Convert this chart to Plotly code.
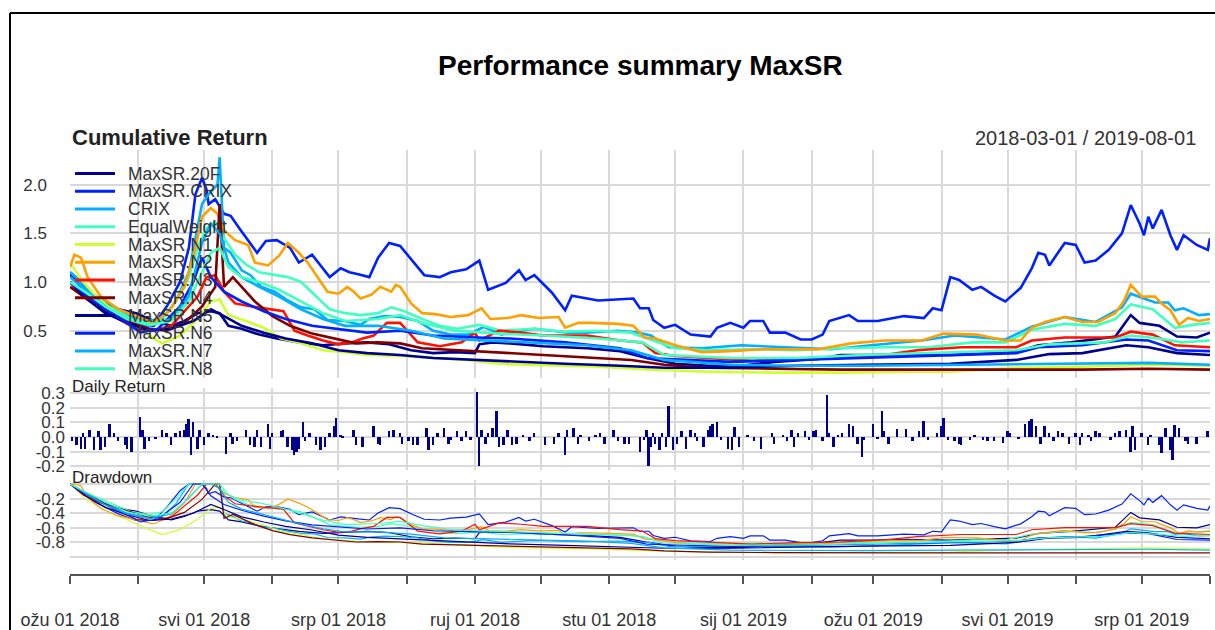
import datetime as dt
import plotly.graph_objects as go

# ---------------- data ----------------
START = "2018-03-01"
END = "2019-08-01"

series_names = ["MaxSR.20F", "MaxSR.CRIX", "CRIX", "EqualWeight", "MaxSR.N1", "MaxSR.N2",
                "MaxSR.N3", "MaxSR.N4", "MaxSR.N5", "MaxSR.N6", "MaxSR.N7", "MaxSR.N8"]
series_colors = ["#00008F", "#0020FF", "#00AFFF", "#40FFBF", "#CFFF30", "#FF9F00",
                 "#FF1000", "#800000", "#00008F", "#0020FF", "#00AFFF", "#40FFBF"]

# day offsets from 2018-03-01 and cumulative values for each series
d_20F = [0, 6, 14, 22, 30, 38, 46, 52, 58, 64, 68, 72, 78, 86, 94, 104, 115, 125, 135, 145,
         155, 165, 175, 184, 186, 192, 200, 215, 235, 250, 262, 275, 290, 305, 320, 340, 350, 365, 380, 400,
         430, 440, 455, 475, 482, 486, 495, 503, 512, 518]
v_20F = [1.08, 0.92, 0.80, 0.72, 0.68, 0.60, 0.55, 0.60, 0.68, 0.70, 0.68, 0.55, 0.52, 0.46, 0.42, 0.38, 0.35, 0.37, 0.38, 0.36,
         0.30, 0.27, 0.28, 0.27, 0.36, 0.38, 0.37, 0.34, 0.32, 0.29, 0.22, 0.16, 0.14, 0.14, 0.18, 0.21, 0.25, 0.25, 0.26, 0.25,
         0.28, 0.35, 0.38, 0.44, 0.66, 0.58, 0.55, 0.44, 0.43, 0.48]

d_MCRIX = [0, 5, 10, 16, 22, 30, 38, 44, 50, 54, 57, 60, 62, 63, 66, 70, 73, 77, 81, 85,
           89, 94, 100, 104, 110, 118, 123, 127, 131, 136, 140, 145, 150, 156, 161, 168, 173, 180, 186, 190,
           198, 204, 207, 211, 219, 225, 228, 235, 240, 256, 259, 263, 265, 270, 275, 282, 291, 294, 300, 306,
           309, 315, 318, 325, 332, 337, 342, 345, 354, 358, 367, 379, 388, 392, 396, 400, 404, 410, 414, 420,
           425, 428, 432, 437, 440, 443, 445, 448, 452, 457, 461, 466, 472, 478, 482, 486, 488, 490, 492, 496,
           500, 503, 506, 512, 517, 518]
v_MCRIX = [1.10, 1.00, 0.85, 0.75, 0.65, 0.55, 0.55, 0.75, 1.00, 1.35, 1.90, 2.07, 1.95, 1.80, 1.85, 1.70, 1.68, 1.55, 1.42, 1.30,
           1.42, 1.43, 1.35, 1.20, 1.28, 1.05, 1.14, 1.10, 1.08, 1.05, 1.25, 1.40, 1.37, 1.20, 1.07, 1.05, 1.10, 1.13, 1.22, 0.92,
           0.99, 1.12, 1.02, 1.07, 0.89, 0.71, 0.86, 0.83, 0.81, 0.83, 0.73, 0.73, 0.61, 0.53, 0.56, 0.46, 0.44, 0.53, 0.58, 0.53,
           0.60, 0.60, 0.48, 0.48, 0.41, 0.41, 0.46, 0.60, 0.66, 0.60, 0.60, 0.65, 0.63, 0.73, 0.71, 1.05, 1.02, 0.92, 0.95, 0.86,
           0.80, 0.86, 0.94, 1.14, 1.30, 1.28, 1.17, 1.27, 1.40, 1.38, 1.20, 1.22, 1.33, 1.50, 1.79, 1.60, 1.48, 1.67, 1.55, 1.74,
           1.48, 1.33, 1.48, 1.38, 1.33, 1.45]

d_CRIX = [0, 5, 10, 18, 26, 34, 42, 48, 54, 60, 63, 67, 68, 70, 73, 78, 82, 87, 93, 99,
          105, 111, 117, 125, 132, 136, 143, 150, 158, 165, 173, 181, 188, 196, 204, 211, 219, 226, 234, 249,
          258, 264, 272, 287, 305, 323, 346, 364, 387, 402, 425, 437, 452, 466, 478, 482, 493, 499, 502, 506,
          513, 518]
v_CRIX = [1.10, 1.00, 0.88, 0.78, 0.66, 0.60, 0.62, 0.80, 1.10, 1.80, 1.90, 2.00, 2.28, 1.35, 1.30, 1.12, 1.07, 0.95, 0.90, 0.81,
          0.74, 0.72, 0.61, 0.60, 0.56, 0.62, 0.65, 0.64, 0.60, 0.50, 0.46, 0.46, 0.54, 0.46, 0.50, 0.52, 0.50, 0.48, 0.48, 0.50,
          0.48, 0.45, 0.33, 0.32, 0.35, 0.33, 0.31, 0.35, 0.40, 0.45, 0.41, 0.54, 0.64, 0.59, 0.74, 0.88, 0.79, 0.79, 0.71, 0.73,
          0.66, 0.67]

d_EW = [0, 6, 12, 20, 28, 36, 42, 48, 54, 58, 62, 66, 70, 75, 80, 86, 92, 99, 105, 112,
        118, 125, 132, 140, 146, 152, 160, 168, 176, 186, 196, 210, 225, 240, 255, 265, 275, 290, 310, 330,
        350, 370, 390, 410, 425, 437, 452, 466, 475, 482, 492, 502, 510, 518]
v_EW = [1.00, 0.90, 0.82, 0.72, 0.62, 0.58, 0.62, 0.80, 1.05, 1.35, 1.55, 1.62, 1.45, 1.28, 1.18, 1.10, 1.08, 1.05, 1.00, 0.85,
        0.72, 0.68, 0.66, 0.68, 0.74, 0.70, 0.62, 0.55, 0.52, 0.56, 0.50, 0.52, 0.49, 0.50, 0.48, 0.40, 0.32, 0.30, 0.31, 0.30,
        0.32, 0.33, 0.33, 0.38, 0.38, 0.51, 0.57, 0.55, 0.62, 0.77, 0.72, 0.53, 0.56, 0.58]

d_N1 = [0, 6, 12, 20, 28, 36, 42, 50, 58, 64, 68, 72, 80, 88, 96, 105, 115, 125, 135, 150,
        165, 180, 195, 215, 240, 265, 290, 320, 350, 380, 400, 430, 460, 490, 518]
v_N1 = [1.20, 1.00, 0.85, 0.70, 0.58, 0.45, 0.37, 0.45, 0.62, 0.80, 0.82, 0.66, 0.60, 0.53, 0.42, 0.37, 0.30, 0.28, 0.25, 0.24,
        0.22, 0.20, 0.16, 0.15, 0.13, 0.10, 0.08, 0.07, 0.07, 0.08, 0.08, 0.12, 0.13, 0.15, 0.14]

d_N2 = [0, 2, 5, 8, 14, 22, 30, 38, 45, 52, 57, 60, 64, 67, 70, 75, 81, 84, 90, 95,
        99, 104, 108, 113, 117, 122, 126, 129, 132, 137, 141, 146, 148, 150, 155, 160, 166, 173, 181, 187,
        191, 199, 205, 213, 222, 225, 231, 237, 249, 256, 261, 266, 275, 287, 300, 315, 340, 355, 370, 387,
        397, 412, 425, 432, 437, 443, 452, 460, 467, 475, 479, 482, 487, 493, 496, 500, 504, 508, 513, 518]
v_N2 = [1.15, 1.28, 1.25, 1.05, 0.85, 0.72, 0.65, 0.58, 0.70, 0.95, 1.35, 1.67, 1.76, 1.70, 1.53, 1.43, 1.38, 1.20, 1.17, 1.27,
        1.40, 1.30, 1.20, 1.04, 0.90, 0.88, 0.95, 0.90, 0.83, 0.87, 0.95, 0.90, 0.97, 0.95, 0.78, 0.68, 0.67, 0.64, 0.66, 0.73,
        0.62, 0.63, 0.66, 0.63, 0.64, 0.53, 0.58, 0.58, 0.57, 0.55, 0.43, 0.42, 0.35, 0.28, 0.29, 0.31, 0.31, 0.37, 0.40, 0.40,
        0.47, 0.46, 0.40, 0.40, 0.53, 0.59, 0.64, 0.59, 0.59, 0.68, 0.81, 0.97, 0.85, 0.85, 0.78, 0.71, 0.56, 0.63, 0.60, 0.62]

d_N3 = [0, 6, 14, 22, 30, 38, 46, 52, 58, 62, 66, 70, 75, 82, 90, 97, 102, 108, 115, 122,
        128, 133, 138, 144, 150, 158, 168, 178, 184, 186, 195, 205, 215, 235, 250, 260, 266, 275, 290, 310,
        330, 350, 370, 385, 405, 430, 437, 452, 475, 482, 492, 502, 518]
v_N3 = [1.00, 0.85, 0.75, 0.62, 0.52, 0.50, 0.55, 0.70, 0.85, 1.05, 1.07, 0.90, 0.78, 0.75, 0.72, 0.70, 0.50, 0.45, 0.40, 0.36,
        0.38, 0.42, 0.45, 0.58, 0.58, 0.38, 0.34, 0.38, 0.48, 0.40, 0.50, 0.48, 0.45, 0.45, 0.40, 0.38, 0.27, 0.24, 0.22, 0.19,
        0.21, 0.22, 0.25, 0.30, 0.33, 0.33, 0.40, 0.43, 0.43, 0.49, 0.46, 0.35, 0.33]

d_N4 = [0, 8, 16, 26, 36, 44, 52, 60, 66, 68, 70, 74, 78, 84, 92, 100, 110, 120, 130, 140,
        150, 160, 175, 190, 205, 220, 240, 255, 270, 290, 320, 350, 380, 420, 460, 490, 518]
v_N4 = [0.95, 0.82, 0.70, 0.60, 0.52, 0.50, 0.58, 0.75, 0.95, 1.80, 0.95, 1.05, 0.95, 0.80, 0.65, 0.55, 0.47, 0.42, 0.37, 0.38,
        0.37, 0.32, 0.30, 0.28, 0.26, 0.24, 0.22, 0.20, 0.15, 0.12, 0.11, 0.10, 0.10, 0.10, 0.10, 0.11, 0.10]

d_N5 = [0, 8, 16, 26, 36, 46, 56, 64, 70, 78, 88, 98, 110, 122, 135, 150, 165, 185, 200, 225,
        250, 270, 300, 330, 360, 400, 430, 445, 460, 480, 490, 503, 518]
v_N5 = [1.00, 0.82, 0.68, 0.58, 0.50, 0.52, 0.60, 0.72, 0.65, 0.55, 0.48, 0.42, 0.37, 0.30, 0.27, 0.25, 0.22, 0.20, 0.18, 0.16,
        0.14, 0.12, 0.12, 0.14, 0.15, 0.16, 0.20, 0.26, 0.27, 0.35, 0.33, 0.27, 0.25]

d_N6 = [0, 8, 16, 26, 32, 40, 50, 56, 60, 64, 70, 78, 88, 98, 110, 122, 135, 150, 165, 185,
        200, 225, 250, 262, 280, 300, 330, 360, 400, 430, 440, 460, 480, 490, 503, 518]
v_N6 = [1.00, 0.85, 0.72, 0.58, 0.48, 0.52, 0.75, 1.00, 1.25, 1.05, 0.90, 0.80, 0.70, 0.62, 0.55, 0.52, 0.48, 0.50, 0.45, 0.43,
        0.42, 0.38, 0.32, 0.22, 0.20, 0.18, 0.20, 0.22, 0.25, 0.27, 0.33, 0.35, 0.41, 0.40, 0.30, 0.29]

d_N7 = [0, 8, 16, 26, 36, 46, 54, 60, 64, 68, 72, 78, 86, 95, 105, 115, 125, 140, 155, 170,
        190, 210, 235, 255, 270, 300, 330, 360, 400, 430, 460, 490, 518]
v_N7 = [1.05, 0.90, 0.75, 0.62, 0.55, 0.62, 0.85, 1.40, 1.60, 1.50, 1.20, 1.05, 0.95, 0.85, 0.72, 0.62, 0.55, 0.55, 0.50, 0.42,
        0.40, 0.38, 0.35, 0.30, 0.20, 0.15, 0.14, 0.14, 0.15, 0.16, 0.17, 0.17, 0.15]

d_N8 = [0, 8, 16, 26, 36, 46, 54, 60, 64, 68, 72, 78, 86, 95, 105, 115, 125, 140, 150, 160,
        175, 195, 215, 240, 260, 270, 300, 330, 360, 400, 430, 445, 470, 482, 495, 505, 518]
v_N8 = [1.00, 0.88, 0.75, 0.62, 0.56, 0.60, 0.80, 1.10, 1.30, 1.35, 1.15, 1.05, 1.00, 0.92, 0.80, 0.68, 0.60, 0.62, 0.66, 0.58,
        0.50, 0.47, 0.45, 0.42, 0.38, 0.25, 0.22, 0.22, 0.25, 0.28, 0.30, 0.36, 0.38, 0.45, 0.42, 0.38, 0.40]

series_days = [d_20F, d_MCRIX, d_CRIX, d_EW, d_N1, d_N2, d_N3, d_N4, d_N5, d_N6, d_N7, d_N8]
series_vals = [v_20F, v_MCRIX, v_CRIX, v_EW, v_N1, v_N2, v_N3, v_N4, v_N5, v_N6, v_N7, v_N8]

# daily returns of MaxSR.20F (day offset, return)
daily_points = [
    (1, -0.03), (3, -0.055), (5, -0.08), (6, 0.03), (7, -0.08), (9, 0.05), (11, -0.09), (13, 0.04), (14, -0.09),
    (16, -0.07), (18, 0.09), (20, 0.03), (22, -0.03), (25, -0.055), (26, -0.08), (28, -0.10), (32, 0.14), (33, 0.05),
    (34, -0.08), (36, -0.03), (39, -0.01), (42, 0.05), (44, 0.03), (46, -0.055), (48, 0.03), (50, 0.04), (52, 0.05),
    (53, 0.09), (54, 0.12), (55, -0.12), (56, 0.10), (58, -0.08), (59, 0.05), (61, -0.055), (63, 0.03), (65, 0.015),
    (67, 0.01), (71, -0.115), (73, 0.03), (74, -0.045), (76, -0.03), (80, 0.05), (82, -0.055), (84, -0.07), (85, 0.05),
    (87, -0.07), (90, 0.09), (91, -0.08), (92, 0.03), (96, 0.04), (97, 0.05), (99, -0.07), (101, -0.09), (102, -0.125),
    (103, -0.10), (104, -0.08), (106, 0.105), (107, -0.03), (109, 0.03), (112, -0.055), (114, -0.09), (116, -0.07),
    (118, 0.03), (120, 0.075), (121, 0.13), (123, 0.015), (124, 0.01), (129, 0.05), (130, -0.055), (133, -0.07),
    (138, 0.075), (140, -0.045), (141, -0.055), (145, 0.04), (147, 0.05), (150, 0.03), (151, -0.045), (154, -0.03),
    (156, -0.055), (158, -0.055), (162, 0.065), (163, -0.09), (165, -0.055), (167, 0.03), (170, 0.065), (172, -0.045),
    (173, -0.02), (176, 0.04), (178, -0.03), (180, 0.04), (182, -0.02), (185, 0.31), (186, -0.20), (187, 0.05),
    (189, -0.045), (190, 0.03), (192, 0.065), (194, 0.18), (195, -0.07), (197, -0.055), (199, 0.05), (201, -0.055),
    (203, -0.045), (206, 0.015), (209, -0.03), (211, 0.03), (216, -0.055), (220, -0.045), (222, 0.03), (225, -0.125),
    (226, 0.05), (229, 0.065), (231, -0.045), (232, 0.015), (236, -0.03), (239, 0.015), (241, 0.03), (243, -0.045),
    (247, 0.05), (249, -0.03), (252, -0.045), (254, -0.045), (259, -0.10),
    (261, -0.02), (262, 0.05), (263, -0.20), (264, -0.07), (265, 0.03), (266, -0.045), (268, -0.09), (269, 0.03),
    (271, -0.07), (272, 0.21), (274, -0.09), (276, -0.045), (278, 0.04), (280, -0.08), (282, 0.05), (284, 0.03),
    (285, -0.03), (288, -0.07), (290, 0.05), (291, 0.075), (292, 0.09), (294, 0.105), (296, -0.02), (299, -0.08),
    (301, -0.09), (302, 0.07), (304, -0.07), (308, 0.015), (311, -0.03), (314, -0.08), (319, 0.03), (320, -0.045),
    (324, 0.015), (326, -0.03), (328, 0.05), (329, -0.07), (331, 0.03), (334, 0.04), (336, -0.02), (338, 0.04),
    (339, 0.05), (342, -0.03), (344, 0.29), (345, 0.03), (347, -0.07), (349, 0.015), (351, 0.03), (354, 0.09),
    (356, 0.075), (358, -0.045), (360, -0.135), (361, -0.02), (365, 0.09), (367, -0.01), (369, 0.18), (370, 0.04),
    (372, -0.045), (376, 0.055), (380, 0.055), (383, -0.03), (386, 0.04), (388, 0.11), (390, -0.02), (394, 0.03),
    (396, 0.075), (397, 0.13), (399, -0.02), (402, -0.03), (404, -0.045), (405, -0.055), (409, -0.02), (411, 0.015),
    (415, -0.02), (417, -0.03), (420, -0.03), (424, -0.04), (426, 0.04), (427, 0.03), (431, -0.01), (434, 0.09),
    (436, 0.11), (437, 0.125), (439, 0.075), (441, -0.045), (443, 0.075), (445, 0.03), (447, -0.03), (449, 0.04),
    (451, 0.03), (454, -0.045), (457, 0.03), (459, -0.055), (460, 0.03), (463, 0.015), (464, -0.03), (466, 0.04),
    (468, 0.03), (473, -0.02), (475, 0.03), (477, 0.04), (480, 0.05), (482, -0.10), (483, 0.075), (484, -0.09),
    (487, 0.03), (490, -0.055), (491, 0.015), (495, -0.055), (496, -0.11), (498, 0.065), (500, -0.09), (501, -0.155),
    (502, 0.08), (504, 0.065), (507, -0.03), (508, -0.045), (512, -0.045), (517, 0.04),
]

x_tick_labels = ["ožu 01 2018", "", "svi 01 2018", "", "srp 01 2018", "", "ruj 01 2018", "",
                 "stu 01 2018", "", "sij 01 2019", "", "ožu 01 2019", "", "svi 01 2019", "",
                 "srp 01 2019", ""]
cum_ticks = [0.5, 1.0, 1.5, 2.0]
cum_tick_text = ["0.5", "1.0", "1.5", "2.0"]
ret_ticks = [-0.2, -0.1, 0.0, 0.1, 0.2, 0.3]
ret_tick_text = ["-0.2", "-0.1", "0.0", "0.1", "0.2", "0.3"]
dd_ticks = [0.0, -0.2, -0.4, -0.6, -0.8, -1.0]
dd_tick_text = ["", "-0.2", "-0.4", "-0.6", "-0.8", ""]

# ---------------- helpers ----------------
start_date = dt.date.fromisoformat(START)
end_date = dt.date.fromisoformat(END)


def to_dates(days):
    return [start_date + dt.timedelta(days=int(d)) for d in days]


month_starts = []
y, m = start_date.year, start_date.month
while dt.date(y, m, 1) <= end_date:
    month_starts.append(dt.date(y, m, 1))
    m += 1
    if m > 12:
        m, y = 1, y + 1

FONT = "Liberation Sans, Arial, sans-serif"
GRID = "#D9D9D9"
TXT = "#333333"

W, H = 1215, 630
ML, MR, MT, MB = 70, 5, 150, 56
PW = W - ML - MR
PH = H - MT - MB


def px_x(x):
    return (x - ML) / PW


def px_y(yp):
    return 1 - (yp - MT) / PH


fig = go.Figure()

# cumulative return lines
for name, col, dd, vv in zip(series_names, series_colors, series_days, series_vals):
    assert len(dd) == len(vv), name
    fig.add_trace(go.Scatter(x=to_dates(dd), y=vv, mode="lines", name=name,
                             line=dict(color=col, width=2.6), xaxis="x", yaxis="y",
                             showlegend=False, hoverinfo="x+y+name"))

# daily return bars (first series)
ret_day = [p[0] for p in daily_points]
ret_val = [p[1] for p in daily_points]
fig.add_trace(go.Bar(x=to_dates(ret_day), y=ret_val, marker=dict(color="#00008F", line=dict(width=0)),
                     width=0.9 * 86400000, xaxis="x2", yaxis="y2", showlegend=False, name="MaxSR.20F"))

# drawdowns computed from the cumulative values
for name, col, dd, vv in zip(series_names, series_colors, series_days, series_vals):
    peak = vv[0]
    draw = []
    for v in vv:
        peak = max(peak, v)
        draw.append(v / peak - 1)
    fig.add_trace(go.Scatter(x=to_dates(dd), y=draw, mode="lines", name=name,
                             line=dict(color=col, width=1.2), xaxis="x3", yaxis="y3",
                             showlegend=False))

# carrier for the date axis strip
fig.add_trace(go.Scatter(x=[start_date, end_date], y=[0, 0], mode="lines",
                         line=dict(color="rgba(0,0,0,0)"), xaxis="x4", yaxis="y4",
                         showlegend=False, hoverinfo="skip"))

xcommon = dict(range=[START, END], type="date", showgrid=True, gridcolor=GRID, gridwidth=2,
               tickvals=month_starts, showticklabels=False, ticks="", zeroline=False, showline=False,
               automargin=False)
ycommon = dict(showgrid=True, gridcolor=GRID, gridwidth=2, zeroline=False, ticks="",
               tickfont=dict(size=17, color=TXT, family=FONT), showline=False, automargin=False)

fig.update_layout(
    width=W, height=H, autosize=False,
    margin=dict(l=ML, r=MR, t=MT, b=MB, autoexpand=False),
    paper_bgcolor="white", plot_bgcolor="white",
    font=dict(family=FONT, color=TXT),
    bargap=0,
    xaxis=dict(**xcommon, anchor="y", domain=[0, 1]),
    xaxis2=dict(**xcommon, anchor="y2", domain=[0, 1], matches="x"),
    xaxis3=dict(**xcommon, anchor="y3", domain=[0, 1], matches="x"),
    xaxis4=dict(range=[START, END], type="date", anchor="y4", domain=[0, 1], matches="x",
                showgrid=False, zeroline=False, showline=True, linecolor="#555555", linewidth=2,
                ticks="outside", ticklen=8, tickwidth=2, tickcolor="#555555", automargin=False,
                tickvals=month_starts, ticktext=x_tick_labels, ticklabelstandoff=20,
                tickfont=dict(size=18, color=TXT, family=FONT)),
    yaxis=dict(**ycommon, anchor="x", domain=[px_y(378), 1], range=[0.0144, 2.355],
               tickvals=cum_ticks, ticktext=cum_tick_text, ticklabelstandoff=22),
    yaxis2=dict(**ycommon, anchor="x2", domain=[px_y(470), px_y(388)], range=[-0.225, 0.335],
                tickvals=ret_ticks, ticktext=ret_tick_text, ticklabelstandoff=4),
    yaxis3=dict(**ycommon, anchor="x3", domain=[px_y(560), px_y(480)], range=[-1.041, 0.055],
                tickvals=dd_ticks, ticktext=dd_tick_text, ticklabelstandoff=4),
    yaxis4=dict(anchor="x4", domain=[0, 0.001], range=[0, 1], visible=False, automargin=False),
)

ann = [
    dict(text="<b>Performance summary MaxSR</b>", x=0.5, y=px_y(65), xanchor="center", yanchor="middle",
         font=dict(size=28, color="black", family=FONT)),
    dict(text="<b>Cumulative Return</b>", x=0, y=px_y(138), xanchor="left", yanchor="middle",
         font=dict(size=22, color="#222222", family=FONT)),
    dict(text=f"{START} / {END}", x=px_x(1198), y=px_y(138), xanchor="right", yanchor="middle",
         font=dict(size=20, color=TXT, family=FONT)),
    dict(text="Daily Return", x=0, y=px_y(386), xanchor="left", yanchor="middle",
         font=dict(size=17, color="#222222", family=FONT)),
    dict(text="Drawdown", x=0, y=px_y(477), xanchor="left", yanchor="middle",
         font=dict(size=17, color="#222222", family=FONT)),
]
shapes = []
# legend inside the top panel
for i, (name, col) in enumerate(zip(series_names, series_colors)):
    yc = px_y(173.5 + i * 17.75)
    shapes.append(dict(type="line", xref="paper", yref="paper", x0=px_x(75), x1=px_x(115), y0=yc, y1=yc,
                       line=dict(color=col, width=3)))
    ann.append(dict(text=name, x=px_x(126), y=yc, xanchor="left", yanchor="middle",
                    font=dict(size=17.5, color=TXT, family=FONT)))
for a in ann:
    a.update(xref="paper", yref="paper", showarrow=False)

# outer frame lines (top and left)
shapes.append(dict(type="line", xref="paper", yref="paper", x0=px_x(10), x1=px_x(1216), y0=px_y(13), y1=px_y(13),
                   line=dict(color="black", width=2)))
shapes.append(dict(type="line", xref="paper", yref="paper", x0=px_x(10), x1=px_x(10), y0=px_y(13), y1=px_y(631),
                   line=dict(color="black", width=2)))

fig.update_layout(annotations=ann, shapes=shapes)
fig.write_html("out.html", config={"displayModeBar": False, "responsive": False})

# remove the default page margin so the figure sits at the window's top-left corner
with open("out.html", "r", encoding="utf-8") as fh:
    html = fh.read()
html = html.replace("<body>", '<body style="margin:0;padding:0;overflow:hidden;">', 1)
with open("out.html", "w", encoding="utf-8") as fh:
    fh.write(html)
